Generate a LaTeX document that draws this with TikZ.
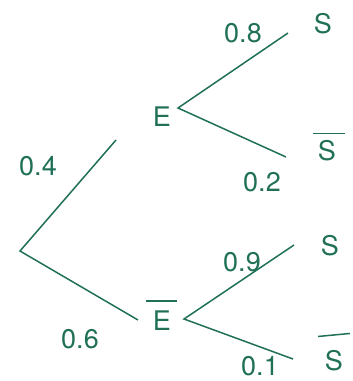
\documentclass[tikz,border=0pt]{standalone}
\usepackage{fontspec}
\setmainfont{TeX Gyre Heros}
\usetikzlibrary{positioning}
\definecolor{tree}{RGB}{32,112,88}

\begin{document}
\begin{tikzpicture}[
  x=1pt, y=-1pt,
  branch/.style={draw=tree, line width=1.5pt},
  event/.style={text=tree, font=\fontsize{27}{32}\selectfont, inner sep=0pt},
  prob/.style={text=tree, font=\fontsize{27}{32}\selectfont, inner sep=0pt},
  overbar/.style={draw=tree, line width=1.5pt},
]
  \useasboundingbox (0,0) rectangle (353,381);

  % Events
  \node[event] (E) at (162,117) {E};
  \node[event] (Eb) at (162,321) {E};
  \node[event] (S1) at (323,24) {S};
  \node[event] (S2) at (327,151) {S};
  \node[event] (S3) at (330,246) {S};
  \node[event] (S4) at (334,361) {S};

  % Branch points and free ends
  \coordinate (root) at (20,251);
  \coordinate (Eend) at (116,140);
  \coordinate (Ebend) at (138,320);
  \coordinate (Efork) at (178,108);
  \coordinate (Ebfork) at (184,319);
  \coordinate (S1end) at (288,33);
  \coordinate (S2end) at (286,157);
  \coordinate (S3end) at (294,245);
  \coordinate (S4end) at (293,359);

  % Branches
  \draw[branch] (Eend) -- (root) -- (Ebend);
  \draw[branch] (S1end) -- (Efork) -- (S2end);
  \draw[branch] (S3end) -- (Ebfork) -- (S4end);

  % Bars over complements
  \draw[overbar] ([shift={(-16,-10)}]Eb.north) -- ([shift={(15,-10)}]Eb.north);
  \draw[overbar] ([shift={(-14,-7)}]S2.north) -- ([shift={(18,-7)}]S2.north);
  \draw[overbar] ([shift={(-16,-14)}]S4.north) -- ([shift={(16,-17)}]S4.north);

  % Probabilities
  \node[prob] (p4) at (38,166) {0.4};
  \node[prob] (p6) at (80,339) {0.6};
  \node[prob] (p8) at (243,33) {0.8};
  \node[prob] (p2) at (262,182) {0.2};
  \node[prob] (p9) at (242,262) {0.9};
  \node[prob] (p1) at (260,366) {0.1};
\end{tikzpicture}
\end{document}
